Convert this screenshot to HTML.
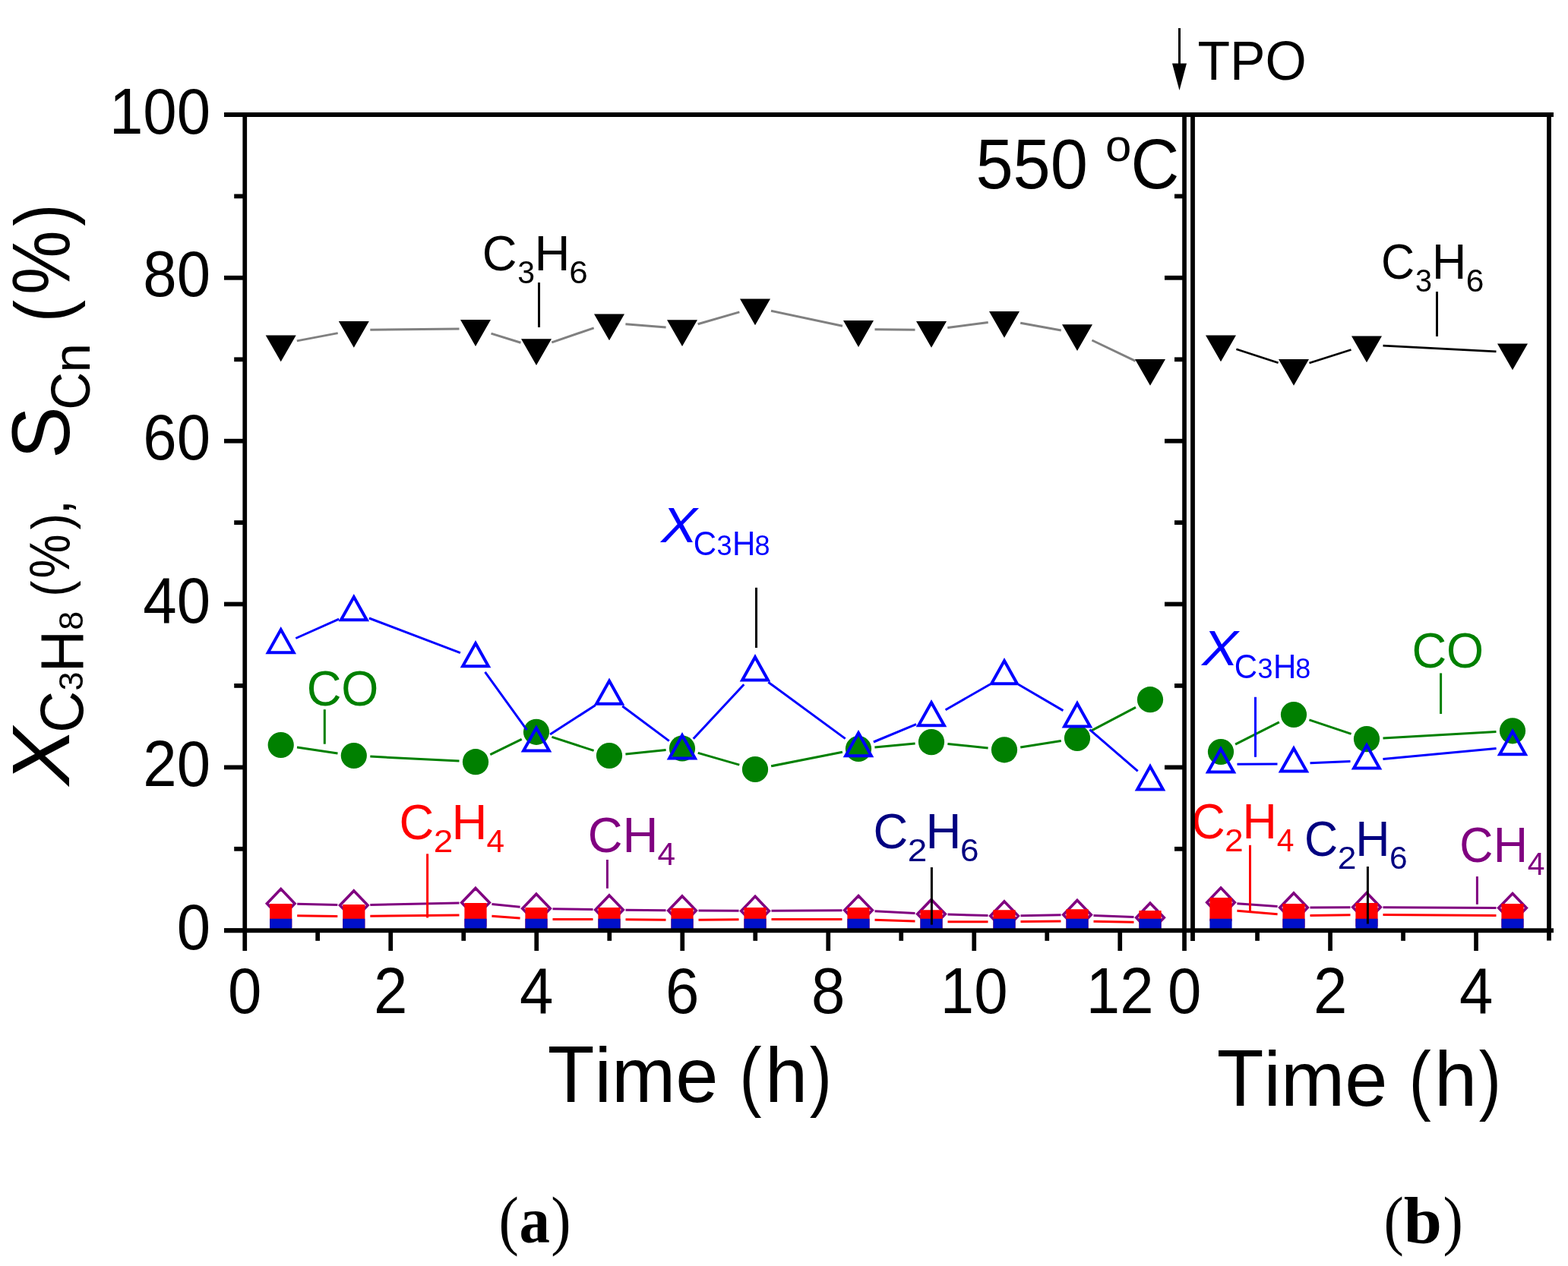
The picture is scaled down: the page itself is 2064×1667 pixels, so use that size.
<!DOCTYPE html>
<html lang="en">
<head>
<meta charset="utf-8">
<title>Propane dehydrogenation at 550 C: conversion and selectivity vs time</title>
<style>
html,body{margin:0;padding:0;background:#fff;}
body{width:2064px;height:1667px;overflow:hidden;}
svg{display:block;font-family:"Liberation Sans","DejaVu Sans",sans-serif;font-kerning:none;}
text{white-space:pre;}
</style>
</head>
<body>
<svg width="2064" height="1667" viewBox="0 0 2064 1667">
<rect width="2064" height="1667" fill="#fff"/>
<defs><clipPath id="plot"><rect x="322" y="151" width="1717" height="1074.5"/></clipPath></defs>
<g id="series" clip-path="url(#plot)">
<path d="M390.8 448.9L444.7 438.6M487.3 434.2L604.5 432.9M646.5 439.1L685.5 451.3M726.3 450.8L781.7 431.9M823.4 426.7L876.6 431.0M918.6 426.8L973.4 410.9M1015.0 409.3L1109.0 429.2M1151.5 433.8L1204.5 434.3M1247.3 431.6L1300.7 424.4M1343.2 425.3L1396.8 435.0M1437.4 448.0L1494.6 475.3" fill="none" stroke="#808080" stroke-width="3"/>
<path d="M349.7 441.5L389.7 441.5L369.7 476.3ZM445.8 423.0L485.8 423.0L465.8 457.8ZM606.0 421.1L646.0 421.1L626.0 455.9ZM686.0 446.3L726.0 446.3L706.0 481.1ZM782.0 413.4L822.0 413.4L802.0 448.2ZM878.0 421.3L918.0 421.3L898.0 456.1ZM974.0 393.4L1014.0 393.4L994.0 428.2ZM1110.0 422.1L1150.0 422.1L1130.0 456.9ZM1206.0 423.0L1246.0 423.0L1226.0 457.8ZM1302.0 410.0L1342.0 410.0L1322.0 444.8ZM1398.0 427.3L1438.0 427.3L1418.0 462.1ZM1494.0 473.0L1534.0 473.0L1514.0 507.8Z" fill="#000"/>
<path d="M391.0 984.1L444.5 991.9M487.3 996.1L604.5 1002.1M645.3 993.7L686.7 973.3M726.4 970.4L781.6 988.4M823.4 992.9L876.6 987.6M918.7 991.4L973.3 1007.1M1015.1 1008.8L1108.9 990.2M1151.4 984.0L1204.6 979.1M1247.4 979.4L1300.6 985.0M1343.2 983.9L1396.8 975.4M1437.0 961.9L1495.0 931.3" fill="none" stroke="#008000" stroke-width="3"/>
<circle cx="369.7" cy="981.0" r="17.1" fill="#008000"/>
<circle cx="465.8" cy="995.0" r="17.1" fill="#008000"/>
<circle cx="626.0" cy="1003.2" r="17.1" fill="#008000"/>
<circle cx="706.0" cy="963.8" r="17.1" fill="#008000"/>
<circle cx="802.0" cy="995.0" r="17.1" fill="#008000"/>
<circle cx="898.0" cy="985.5" r="17.1" fill="#008000"/>
<circle cx="994.0" cy="1013.0" r="17.1" fill="#008000"/>
<circle cx="1130.0" cy="986.0" r="17.1" fill="#008000"/>
<circle cx="1226.0" cy="977.1" r="17.1" fill="#008000"/>
<circle cx="1322.0" cy="987.3" r="17.1" fill="#008000"/>
<circle cx="1418.0" cy="972.0" r="17.1" fill="#008000"/>
<circle cx="1514.0" cy="921.2" r="17.1" fill="#008000"/>
<path d="M389.3 840.5L446.2 815.1M485.9 814.0L605.9 859.6M638.5 884.8L693.5 961.2M724.1 967.0L783.9 928.5M819.2 929.7L880.8 975.6M912.7 972.8L979.3 901.2M1011.3 898.2L1112.7 972.6M1149.9 977.0L1206.1 953.7M1244.6 934.7L1303.4 901.0M1340.6 901.2L1399.4 935.6M1434.3 960.6L1497.7 1015.4" fill="none" stroke="#0000ff" stroke-width="3"/>
<path d="M369.7 829.0L386.6 859.2L352.8 859.2ZM465.8 786.0L482.7 816.2L448.9 816.2ZM626.0 847.0L642.9 877.2L609.1 877.2ZM706.0 958.4L722.9 988.6L689.1 988.6ZM802.0 896.5L818.9 926.7L785.1 926.7ZM898.0 968.2L914.9 998.4L881.1 998.4ZM994.0 865.2L1010.9 895.4L977.1 895.4ZM1130.0 965.0L1146.9 995.2L1113.1 995.2ZM1226.0 925.1L1242.9 955.3L1209.1 955.3ZM1322.0 870.0L1338.9 900.2L1305.1 900.2ZM1418.0 926.2L1434.9 956.4L1401.1 956.4ZM1514.0 1009.2L1530.9 1039.4L1497.1 1039.4Z" fill="none" stroke="#0000ff" stroke-width="4" stroke-linejoin="miter" stroke-miterlimit="10"/>
<path d="M391.2 1190.2L444.3 1191.5M487.3 1191.5L604.5 1189.0M647.4 1190.6L684.6 1194.2M727.5 1196.7L780.5 1197.6M823.5 1198.2L876.5 1198.8M919.5 1199.1L972.5 1199.3M1015.5 1199.3L1108.5 1198.7M1151.5 1199.7L1204.5 1202.4M1247.5 1204.1L1300.5 1205.4M1343.5 1205.7L1396.5 1204.8M1439.5 1205.4L1492.5 1207.4" fill="none" stroke="#800080" stroke-width="3"/>
<path d="M369.7 1170.6L388.0 1189.7L369.7 1208.8L351.4 1189.7ZM465.8 1172.9L484.1 1192.0L465.8 1211.1L447.5 1192.0ZM626.0 1169.4L644.3 1188.5L626.0 1207.6L607.7 1188.5ZM706.0 1177.2L724.3 1196.3L706.0 1215.4L687.7 1196.3ZM802.0 1178.9L820.3 1198.0L802.0 1217.1L783.7 1198.0ZM898.0 1179.9L916.3 1199.0L898.0 1218.1L879.7 1199.0ZM994.0 1180.3L1012.3 1199.4L994.0 1218.5L975.7 1199.4ZM1130.0 1179.5L1148.3 1198.6L1130.0 1217.7L1111.7 1198.6ZM1226.0 1184.4L1244.3 1203.5L1226.0 1222.6L1207.7 1203.5ZM1322.0 1186.9L1340.3 1206.0L1322.0 1225.1L1303.7 1206.0ZM1418.0 1185.4L1436.3 1204.5L1418.0 1223.6L1399.7 1204.5ZM1514.0 1189.2L1532.3 1208.3L1514.0 1227.4L1495.7 1208.3Z" fill="none" stroke="#800080" stroke-width="3.6" stroke-linejoin="miter" stroke-miterlimit="10"/>
<path d="M391.2 1205.8L444.3 1206.4M487.3 1206.3L604.5 1204.9M647.4 1206.2L684.6 1208.9M727.5 1210.5L780.5 1210.5M823.5 1210.7L876.5 1211.2M919.5 1211.2L972.5 1210.7M1015.5 1210.5L1108.5 1210.5M1151.5 1211.2L1204.5 1213.1M1247.5 1213.8L1300.5 1213.8M1343.5 1213.6L1396.5 1213.0M1439.5 1213.2L1492.5 1214.3" fill="none" stroke="#ff0000" stroke-width="3"/>
<path d="M355.1 1190.0H384.3V1221.2H355.1ZM451.2 1191.0H480.4V1222.2H451.2ZM611.4 1189.0H640.6V1220.2H611.4ZM691.4 1194.9H720.6V1226.0H691.4ZM787.4 1194.9H816.6V1226.0H787.4ZM883.4 1195.8H912.6V1226.0H883.4ZM979.4 1194.9H1008.6V1226.0H979.4ZM1115.4 1194.9H1144.6V1226.0H1115.4ZM1211.4 1198.2H1240.6V1226.0H1211.4ZM1307.4 1198.2H1336.6V1226.0H1307.4ZM1403.4 1197.2H1432.6V1226.0H1403.4ZM1499.4 1199.1H1528.6V1226.0H1499.4Z" fill="#ff0000"/>
<path d="M355.1 1209.8H384.3V1226.0H355.1ZM451.2 1209.8H480.4V1226.0H451.2ZM611.4 1209.8H640.6V1226.0H611.4ZM691.4 1209.8H720.6V1226.0H691.4ZM787.4 1209.8H816.6V1226.0H787.4ZM883.4 1209.8H912.6V1226.0H883.4ZM979.4 1209.8H1008.6V1226.0H979.4ZM1115.4 1209.8H1144.6V1226.0H1115.4ZM1211.4 1209.8H1240.6V1226.0H1211.4ZM1307.4 1209.8H1336.6V1226.0H1307.4ZM1403.4 1209.8H1432.6V1226.0H1403.4ZM1499.4 1209.8H1528.6V1226.0H1499.4Z" fill="#0010c8"/>
<path d="M1627.4 459.7L1682.6 477.8M1723.5 478.0L1778.5 460.5M1820.5 455.1L1969.5 462.9" fill="none" stroke="#000" stroke-width="2.7"/>
<path d="M1587.0 441.5L1627.0 441.5L1607.0 476.3ZM1683.0 473.0L1723.0 473.0L1703.0 507.8ZM1779.0 442.5L1819.0 442.5L1799.0 477.3ZM1971.0 452.5L2011.0 452.5L1991.0 487.3Z" fill="#000"/>
<path d="M1626.1 980.2L1683.9 950.8M1723.4 947.8L1778.6 966.3M1820.5 971.9L1969.5 963.5" fill="none" stroke="#008000" stroke-width="3"/>
<circle cx="1607.0" cy="990.0" r="17.1" fill="#008000"/>
<circle cx="1703.0" cy="941.0" r="17.1" fill="#008000"/>
<circle cx="1799.0" cy="973.1" r="17.1" fill="#008000"/>
<circle cx="1991.0" cy="962.3" r="17.1" fill="#008000"/>
<path d="M1628.5 1006.3L1681.5 1005.9M1724.5 1004.8L1777.5 1002.5M1820.4 999.6L1969.6 985.4" fill="none" stroke="#0000ff" stroke-width="3"/>
<path d="M1607.0 986.2L1623.9 1016.4L1590.1 1016.4ZM1703.0 985.4L1719.9 1015.6L1686.1 1015.6ZM1799.0 981.3L1815.9 1011.5L1782.1 1011.5ZM1991.0 963.1L2007.9 993.3L1974.1 993.3Z" fill="none" stroke="#0000ff" stroke-width="4" stroke-linejoin="miter" stroke-miterlimit="10"/>
<path d="M1628.4 1189.7L1681.6 1193.5M1724.5 1194.9L1777.5 1194.7M1820.5 1194.7L1969.5 1195.5" fill="none" stroke="#800080" stroke-width="3"/>
<path d="M1607.0 1169.1L1625.3 1188.2L1607.0 1207.3L1588.7 1188.2ZM1703.0 1175.9L1721.3 1195.0L1703.0 1214.1L1684.7 1195.0ZM1799.0 1175.5L1817.3 1194.6L1799.0 1213.7L1780.7 1194.6ZM1991.0 1176.5L2009.3 1195.6L1991.0 1214.7L1972.7 1195.6Z" fill="none" stroke="#800080" stroke-width="3.6" stroke-linejoin="miter" stroke-miterlimit="10"/>
<path d="M1628.4 1199.3L1681.6 1203.8M1724.5 1205.4L1777.5 1204.7M1820.5 1204.6L1969.5 1205.4" fill="none" stroke="#ff0000" stroke-width="3"/>
<path d="M1592.4 1181.9H1621.6V1213.1H1592.4ZM1688.4 1190.0H1717.6V1221.2H1688.4ZM1784.4 1188.9H1813.6V1220.1H1784.4ZM1976.4 1189.9H2005.6V1221.1H1976.4Z" fill="#ff0000"/>
<path d="M1592.4 1209.8H1621.6V1226.0H1592.4ZM1688.4 1209.8H1717.6V1226.0H1688.4ZM1784.4 1209.8H1813.6V1226.0H1784.4ZM1976.4 1209.8H2005.6V1226.0H1976.4Z" fill="#0010c8"/>
</g>
<g id="ticklabels" fill="#000">
<text><tspan x="232.69" y="1249.70" font-size="84.64" textLength="44.37" lengthAdjust="spacingAndGlyphs">0</tspan></text>
<text><tspan x="188.32" y="1034.86" font-size="84.64" textLength="88.75" lengthAdjust="spacingAndGlyphs">20</tspan></text>
<text><tspan x="188.32" y="820.02" font-size="84.64" textLength="88.75" lengthAdjust="spacingAndGlyphs">40</tspan></text>
<text><tspan x="188.32" y="605.18" font-size="84.64" textLength="88.75" lengthAdjust="spacingAndGlyphs">60</tspan></text>
<text><tspan x="188.32" y="390.34" font-size="84.64" textLength="88.75" lengthAdjust="spacingAndGlyphs">80</tspan></text>
<text><tspan x="143.95" y="175.50" font-size="84.64" textLength="133.12" lengthAdjust="spacingAndGlyphs">100</tspan></text>
<text><tspan x="300.01" y="1334.20" font-size="84.64" textLength="44.37" lengthAdjust="spacingAndGlyphs">0</tspan></text>
<text><tspan x="492.01" y="1334.20" font-size="84.64" textLength="44.37" lengthAdjust="spacingAndGlyphs">2</tspan></text>
<text><tspan x="684.01" y="1334.20" font-size="84.64" textLength="44.37" lengthAdjust="spacingAndGlyphs">4</tspan></text>
<text><tspan x="876.01" y="1334.20" font-size="84.64" textLength="44.37" lengthAdjust="spacingAndGlyphs">6</tspan></text>
<text><tspan x="1068.01" y="1334.20" font-size="84.64" textLength="44.37" lengthAdjust="spacingAndGlyphs">8</tspan></text>
<text><tspan x="1237.83" y="1334.20" font-size="84.64" textLength="88.75" lengthAdjust="spacingAndGlyphs">10</tspan></text>
<text><tspan x="1429.83" y="1334.20" font-size="84.64" textLength="88.75" lengthAdjust="spacingAndGlyphs">12</tspan></text>
<text><tspan x="1537.11" y="1334.20" font-size="84.64" textLength="44.37" lengthAdjust="spacingAndGlyphs">0</tspan></text>
<text><tspan x="1729.11" y="1334.20" font-size="84.64" textLength="44.37" lengthAdjust="spacingAndGlyphs">2</tspan></text>
<text><tspan x="1921.11" y="1334.20" font-size="84.64" textLength="44.37" lengthAdjust="spacingAndGlyphs">4</tspan></text>
</g>
<g id="titles" fill="#000">
<text><tspan x="720.73" y="1451.00" font-size="106.16" textLength="61.76" lengthAdjust="spacingAndGlyphs">T</tspan><tspan x="782.49" y="1451.00" font-size="101.10" textLength="162.91" lengthAdjust="spacingAndGlyphs">ime</tspan><tspan> </tspan><tspan x="973.35" y="1451.00" font-size="101.10" textLength="29.29" lengthAdjust="spacingAndGlyphs">(</tspan><tspan x="1006.89" y="1451.00" font-size="101.10" textLength="56.23" lengthAdjust="spacingAndGlyphs">h</tspan><tspan x="1065.68" y="1451.00" font-size="101.10" textLength="29.29" lengthAdjust="spacingAndGlyphs">)</tspan></text>
<text><tspan x="1601.83" y="1456.30" font-size="106.16" textLength="61.76" lengthAdjust="spacingAndGlyphs">T</tspan><tspan x="1663.59" y="1456.30" font-size="101.10" textLength="162.91" lengthAdjust="spacingAndGlyphs">ime</tspan><tspan> </tspan><tspan x="1854.45" y="1456.30" font-size="101.10" textLength="29.29" lengthAdjust="spacingAndGlyphs">(</tspan><tspan x="1887.99" y="1456.30" font-size="101.10" textLength="56.23" lengthAdjust="spacingAndGlyphs">h</tspan><tspan x="1946.78" y="1456.30" font-size="101.10" textLength="29.29" lengthAdjust="spacingAndGlyphs">)</tspan></text>
<text transform="rotate(-90)"><tspan x="-1033.93" y="90.60" font-size="107.10" textLength="75.86" lengthAdjust="spacingAndGlyphs" font-style="italic">X</tspan><tspan x="-964.88" y="109.00" font-size="80.48" textLength="55.25" lengthAdjust="spacingAndGlyphs">C</tspan><tspan x="-909.51" y="109.00" font-size="45.00" textLength="25.03" lengthAdjust="spacingAndGlyphs">3</tspan><tspan x="-885.28" y="109.00" font-size="80.48" textLength="55.25" lengthAdjust="spacingAndGlyphs">H</tspan><tspan x="-829.86" y="109.00" font-size="45.00" textLength="25.03" lengthAdjust="spacingAndGlyphs">8</tspan><tspan> </tspan><tspan x="-785.83" y="90.60" font-size="70.50" textLength="21.13" lengthAdjust="spacingAndGlyphs">(</tspan><tspan x="-761.43" y="90.60" font-size="75.36" textLength="58.11" lengthAdjust="spacingAndGlyphs">%</tspan><tspan x="-697.17" y="90.60" font-size="70.50" textLength="21.13" lengthAdjust="spacingAndGlyphs">)</tspan><tspan x="-677.43" y="90.60" font-size="70.50" textLength="19.59" lengthAdjust="spacingAndGlyphs">,</tspan><tspan> </tspan><tspan x="-603.98" y="90.60" font-size="107.63" textLength="68.70" lengthAdjust="spacingAndGlyphs">S</tspan><tspan x="-539.80" y="117.50" font-size="72.10" textLength="49.83" lengthAdjust="spacingAndGlyphs">C</tspan><tspan x="-490.48" y="117.50" font-size="69.00" textLength="38.37" lengthAdjust="spacingAndGlyphs">n</tspan><tspan> </tspan><tspan x="-424.26" y="90.60" font-size="101.20" textLength="29.32" lengthAdjust="spacingAndGlyphs">(</tspan><tspan x="-388.09" y="90.60" font-size="107.27" textLength="84.67" lengthAdjust="spacingAndGlyphs">%</tspan><tspan x="-297.72" y="90.60" font-size="101.20" textLength="29.32" lengthAdjust="spacingAndGlyphs">)</tspan></text>
<text><tspan x="1284.46" y="247.80" font-size="92.38" textLength="147.49" lengthAdjust="spacingAndGlyphs">550</tspan><tspan> </tspan><tspan x="1455.10" y="211.80" font-size="60.00" textLength="34.37" lengthAdjust="spacingAndGlyphs">o</tspan><tspan x="1488.61" y="247.80" font-size="92.38" textLength="63.84" lengthAdjust="spacingAndGlyphs">C</tspan></text>
<text><tspan x="1576.43" y="104.70" font-size="72.14" textLength="143.28" lengthAdjust="spacingAndGlyphs">TPO</tspan></text>
</g>
<g id="arrow" fill="#000"><rect x="1551" y="37" width="3" height="50"/><path d="M1543 83.5H1562L1552.5 119Z"/></g>
<g id="panellabels" font-family="'Liberation Serif','DejaVu Serif',serif" fill="#000">
<text><tspan x="656.52" y="1636.00" font-size="86.00" textLength="26.35" lengthAdjust="spacingAndGlyphs">(</tspan><tspan x="683.49" y="1636.00" font-size="86.00" textLength="40.42" lengthAdjust="spacingAndGlyphs" font-weight="bold">a</tspan><tspan x="725.25" y="1636.00" font-size="86.00" textLength="26.35" lengthAdjust="spacingAndGlyphs">)</tspan></text>
<text><tspan x="1821.62" y="1636.00" font-size="86.00" textLength="26.35" lengthAdjust="spacingAndGlyphs">(</tspan><tspan x="1847.65" y="1636.00" font-size="86.00" textLength="50.22" lengthAdjust="spacingAndGlyphs" font-weight="bold">b</tspan><tspan x="1899.55" y="1636.00" font-size="86.00" textLength="26.35" lengthAdjust="spacingAndGlyphs">)</tspan></text>
</g>
<g id="annotations">
<text fill="#000"><tspan x="634.69" y="356.00" font-size="65.60" textLength="45.71" lengthAdjust="spacingAndGlyphs">C</tspan><tspan x="681.33" y="372.90" font-size="42.00" textLength="22.80" lengthAdjust="spacingAndGlyphs">3</tspan><tspan x="703.61" y="356.00" font-size="65.60" textLength="46.94" lengthAdjust="spacingAndGlyphs">H</tspan><tspan x="749.20" y="372.90" font-size="42.00" textLength="24.47" lengthAdjust="spacingAndGlyphs">6</tspan></text>
<rect x="708.0" y="372.0" width="3" height="59.0" fill="#000"/>
<text fill="#0000ff"><tspan x="870.36" y="713.70" font-size="64.99" textLength="47.56" lengthAdjust="spacingAndGlyphs" font-style="italic">X</tspan><tspan x="912.87" y="730.90" font-size="43.89" textLength="30.33" lengthAdjust="spacingAndGlyphs">C</tspan><tspan x="943.53" y="730.90" font-size="36.00" textLength="20.02" lengthAdjust="spacingAndGlyphs">3</tspan><tspan x="964.05" y="730.70" font-size="43.89" textLength="30.33" lengthAdjust="spacingAndGlyphs">H</tspan><tspan x="993.44" y="730.90" font-size="36.00" textLength="20.02" lengthAdjust="spacingAndGlyphs">8</tspan></text>
<rect x="994.0" y="773.8" width="3" height="79.2" fill="#000"/>
<text fill="#008000"><tspan x="403.79" y="928.70" font-size="65.60" textLength="45.71" lengthAdjust="spacingAndGlyphs">C</tspan><tspan x="449.36" y="928.70" font-size="65.60" textLength="49.08" lengthAdjust="spacingAndGlyphs">O</tspan></text>
<rect x="425.8" y="934.2" width="3" height="45.5" fill="#008000"/>
<text fill="#ff0000"><tspan x="525.49" y="1105.10" font-size="65.60" textLength="45.71" lengthAdjust="spacingAndGlyphs">C</tspan><tspan x="570.74" y="1122.00" font-size="42.00" textLength="25.58" lengthAdjust="spacingAndGlyphs">2</tspan><tspan x="594.41" y="1105.10" font-size="65.60" textLength="46.94" lengthAdjust="spacingAndGlyphs">H</tspan><tspan x="640.47" y="1122.00" font-size="42.00" textLength="23.53" lengthAdjust="spacingAndGlyphs">4</tspan></text>
<rect x="561.1" y="1124.3" width="3" height="84.2" fill="#ff0000"/>
<text fill="#800080"><tspan x="773.69" y="1121.80" font-size="65.60" textLength="45.71" lengthAdjust="spacingAndGlyphs">C</tspan><tspan x="819.48" y="1121.80" font-size="65.60" textLength="46.94" lengthAdjust="spacingAndGlyphs">H</tspan><tspan x="865.54" y="1138.70" font-size="42.00" textLength="23.53" lengthAdjust="spacingAndGlyphs">4</tspan></text>
<rect x="797.9" y="1132.0" width="3" height="37.8" fill="#800080"/>
<text fill="#000080"><tspan x="1149.49" y="1116.70" font-size="65.60" textLength="45.71" lengthAdjust="spacingAndGlyphs">C</tspan><tspan x="1194.74" y="1133.60" font-size="42.00" textLength="25.58" lengthAdjust="spacingAndGlyphs">2</tspan><tspan x="1218.41" y="1116.70" font-size="65.60" textLength="46.94" lengthAdjust="spacingAndGlyphs">H</tspan><tspan x="1264.00" y="1133.60" font-size="42.00" textLength="24.47" lengthAdjust="spacingAndGlyphs">6</tspan></text>
<rect x="1224.9" y="1142.0" width="3" height="75.6" fill="#000"/>
<text fill="#000"><tspan x="1817.90" y="367.20" font-size="65.60" textLength="44.11" lengthAdjust="spacingAndGlyphs">C</tspan><tspan x="1862.99" y="384.10" font-size="42.00" textLength="22.00" lengthAdjust="spacingAndGlyphs">3</tspan><tspan x="1885.09" y="367.20" font-size="65.60" textLength="45.30" lengthAdjust="spacingAndGlyphs">H</tspan><tspan x="1929.68" y="384.10" font-size="42.00" textLength="23.61" lengthAdjust="spacingAndGlyphs">6</tspan></text>
<rect x="1890.0" y="384.0" width="3" height="59.0" fill="#000"/>
<text fill="#0000ff"><tspan x="1582.26" y="876.00" font-size="64.99" textLength="47.56" lengthAdjust="spacingAndGlyphs" font-style="italic">X</tspan><tspan x="1624.77" y="893.20" font-size="43.89" textLength="30.33" lengthAdjust="spacingAndGlyphs">C</tspan><tspan x="1655.43" y="893.20" font-size="36.00" textLength="20.02" lengthAdjust="spacingAndGlyphs">3</tspan><tspan x="1675.95" y="893.00" font-size="43.89" textLength="30.33" lengthAdjust="spacingAndGlyphs">H</tspan><tspan x="1705.34" y="893.20" font-size="36.00" textLength="20.02" lengthAdjust="spacingAndGlyphs">8</tspan></text>
<rect x="1651.0" y="917.8" width="3" height="79.0" fill="#0000ff"/>
<text fill="#008000"><tspan x="1858.49" y="879.20" font-size="65.60" textLength="45.71" lengthAdjust="spacingAndGlyphs">C</tspan><tspan x="1904.06" y="879.20" font-size="65.60" textLength="49.08" lengthAdjust="spacingAndGlyphs">O</tspan></text>
<rect x="1895.1" y="886.4" width="3" height="53.6" fill="#008000"/>
<text fill="#ff0000"><tspan x="1568.40" y="1104.30" font-size="65.60" textLength="44.11" lengthAdjust="spacingAndGlyphs">C</tspan><tspan x="1612.14" y="1121.20" font-size="42.00" textLength="24.69" lengthAdjust="spacingAndGlyphs">2</tspan><tspan x="1635.59" y="1104.30" font-size="65.60" textLength="45.30" lengthAdjust="spacingAndGlyphs">H</tspan><tspan x="1680.64" y="1121.20" font-size="42.00" textLength="22.70" lengthAdjust="spacingAndGlyphs">4</tspan></text>
<rect x="1644.0" y="1112.8" width="3" height="88.0" fill="#ff0000"/>
<text fill="#000080"><tspan x="1717.10" y="1126.80" font-size="65.60" textLength="44.11" lengthAdjust="spacingAndGlyphs">C</tspan><tspan x="1760.84" y="1143.70" font-size="42.00" textLength="24.69" lengthAdjust="spacingAndGlyphs">2</tspan><tspan x="1784.29" y="1126.80" font-size="65.60" textLength="45.30" lengthAdjust="spacingAndGlyphs">H</tspan><tspan x="1828.88" y="1143.70" font-size="42.00" textLength="23.61" lengthAdjust="spacingAndGlyphs">6</tspan></text>
<rect x="1798.9" y="1141.0" width="3" height="75.5" fill="#000"/>
<text fill="#800080"><tspan x="1921.20" y="1135.10" font-size="65.60" textLength="44.11" lengthAdjust="spacingAndGlyphs">C</tspan><tspan x="1965.66" y="1135.10" font-size="65.60" textLength="45.30" lengthAdjust="spacingAndGlyphs">H</tspan><tspan x="2010.71" y="1152.00" font-size="42.00" textLength="22.70" lengthAdjust="spacingAndGlyphs">4</tspan></text>
<rect x="1942.9" y="1154.1" width="3" height="36.7" fill="#800080"/>
</g>
<g id="axes" fill="#000">
<rect x="295.0" y="148.0" width="1750.0" height="6.0"/>
<rect x="295.0" y="1222.3" width="1750.0" height="5.9"/>
<rect x="319.4" y="148.0" width="5.7" height="1104.0"/>
<rect x="1556.2" y="148.0" width="5.7" height="1104.0"/>
<rect x="1567.1" y="148.0" width="5.8" height="1091.0"/>
<rect x="2036.1" y="148.0" width="5.8" height="1090.5"/>
<rect x="295.0" y="1222.3" width="27.0" height="5.8"/>
<rect x="308.2" y="1114.9" width="13.8" height="5.8"/>
<rect x="1546.0" y="1114.9" width="12.0" height="5.8"/>
<rect x="295.0" y="1007.5" width="27.0" height="5.8"/>
<rect x="1533.0" y="1007.5" width="25.0" height="5.8"/>
<rect x="308.2" y="900.0" width="13.8" height="5.8"/>
<rect x="1546.0" y="900.0" width="12.0" height="5.8"/>
<rect x="295.0" y="792.6" width="27.0" height="5.8"/>
<rect x="1533.0" y="792.6" width="25.0" height="5.8"/>
<rect x="308.2" y="685.2" width="13.8" height="5.8"/>
<rect x="1546.0" y="685.2" width="12.0" height="5.8"/>
<rect x="295.0" y="577.8" width="27.0" height="5.8"/>
<rect x="1533.0" y="577.8" width="25.0" height="5.8"/>
<rect x="308.2" y="470.4" width="13.8" height="5.8"/>
<rect x="1546.0" y="470.4" width="12.0" height="5.8"/>
<rect x="295.0" y="362.9" width="27.0" height="5.8"/>
<rect x="1533.0" y="362.9" width="25.0" height="5.8"/>
<rect x="308.2" y="255.5" width="13.8" height="5.8"/>
<rect x="1546.0" y="255.5" width="12.0" height="5.8"/>
<rect x="295.0" y="148.1" width="27.0" height="5.8"/>
<rect x="415.3" y="1225.0" width="5.7" height="13.8"/>
<rect x="511.4" y="1225.0" width="5.7" height="27.0"/>
<rect x="607.4" y="1225.0" width="5.7" height="13.8"/>
<rect x="703.4" y="1225.0" width="5.7" height="27.0"/>
<rect x="799.4" y="1225.0" width="5.7" height="13.8"/>
<rect x="895.4" y="1225.0" width="5.7" height="27.0"/>
<rect x="991.4" y="1225.0" width="5.7" height="13.8"/>
<rect x="1087.4" y="1225.0" width="5.7" height="27.0"/>
<rect x="1183.4" y="1225.0" width="5.7" height="13.8"/>
<rect x="1279.4" y="1225.0" width="5.7" height="27.0"/>
<rect x="1375.4" y="1225.0" width="5.7" height="13.8"/>
<rect x="1471.4" y="1225.0" width="5.7" height="27.0"/>
<rect x="1652.2" y="1225.0" width="5.7" height="13.8"/>
<rect x="1748.2" y="1225.0" width="5.7" height="27.0"/>
<rect x="1844.2" y="1225.0" width="5.7" height="13.8"/>
<rect x="1940.2" y="1225.0" width="5.7" height="27.0"/>
</g>
</svg>
</body>
</html>
